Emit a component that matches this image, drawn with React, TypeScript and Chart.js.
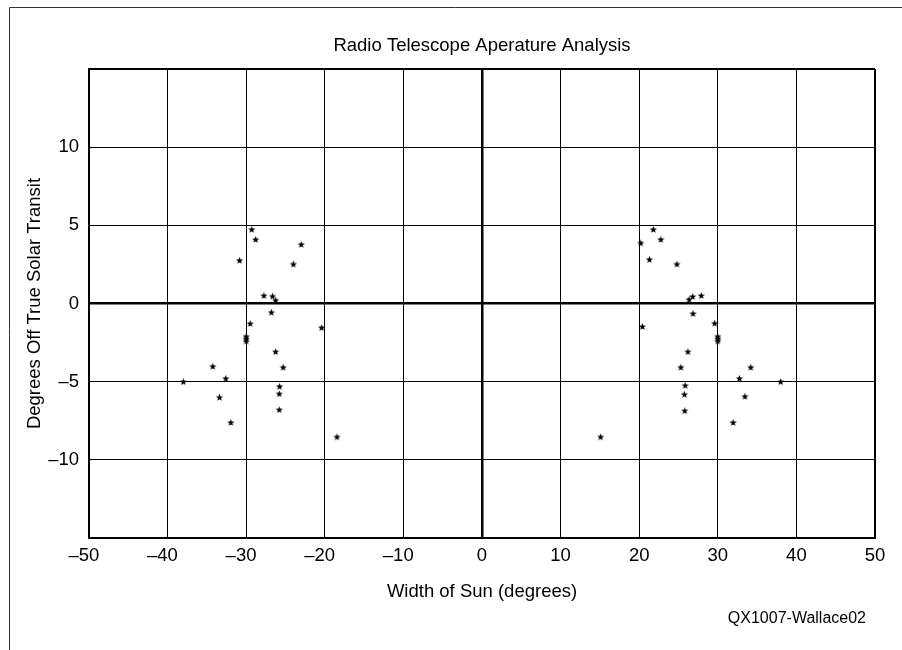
import React, { useEffect, useRef } from "react";
import { Chart, registerables } from "chart.js";

Chart.register(...registerables);

// West lobe (negative widths)
const westX = [-29.3, -28.8, -23.0, -30.85, -24.0, -27.75, -26.65, -26.25, -26.8, -29.5, -20.4, -30.0, -30.0, -30.0, -26.25, -25.3, -34.25, -32.6, -38.0, -25.75, -25.8, -33.4, -25.8, -31.95, -18.45];
const westY = [4.74, 4.1, 3.78, 2.76, 2.52, 0.51, 0.47, 0.21, -0.56, -1.28, -1.54, -2.1, -2.25, -2.4, -3.08, -4.08, -4.02, -4.79, -5.0, -5.3, -5.77, -6.0, -6.79, -7.61, -8.53];
// East lobe (positive widths)
const eastX = [21.8, 22.75, 20.2, 21.3, 24.8, 27.9, 26.8, 26.35, 26.85, 29.6, 20.4, 30.0, 30.0, 30.0, 26.2, 25.3, 34.2, 32.75, 38.0, 25.85, 25.75, 33.45, 25.8, 31.95, 15.1];
const eastY = [4.74, 4.1, 3.87, 2.82, 2.52, 0.51, 0.45, 0.26, -0.64, -1.26, -1.47, -2.1, -2.25, -2.4, -3.08, -4.08, -4.08, -4.79, -5.0, -5.24, -5.81, -5.94, -6.86, -7.61, -8.53];

const chartTitle = "Radio Telescope Aperature Analysis";
const xTitle = "Width of Sun (degrees)";
const yTitle = "Degrees Off True Solar Transit";
const footerText = "QX1007-Wallace02";
const xMin = -50, xMax = 50, xStep = 10;
const yMin = -15, yMax = 15, yStep = 5;

const FONT = "'Liberation Sans', Arial, Helvetica, sans-serif";

function fmtX(v: number): string {
  return v < 0 ? "\u2013" + Math.abs(v) + "\u2007" : String(v);
}
function fmtY(v: number): string {
  if (Math.abs(v) === 15) return "";
  return v < 0 ? "\u2013" + Math.abs(v) : String(v);
}

function makeStar(): HTMLCanvasElement {
  const c = document.createElement("canvas");
  c.width = 9;
  c.height = 9;
  const g = c.getContext("2d")!;
  g.fillStyle = "#000";
  g.beginPath();
  for (let i = 0; i < 10; i++) {
    const r = i % 2 === 0 ? 3.8 : 1.6;
    const a = -Math.PI / 2 + (i * Math.PI) / 5;
    const px = 4.5 + r * Math.cos(a);
    const py = 4.8 + r * Math.sin(a);
    if (i === 0) g.moveTo(px, py);
    else g.lineTo(px, py);
  }
  g.closePath();
  g.fill();
  return c;
}

const framePlugin = {
  id: "frameAndFooter",
  afterDraw(chart: any) {
    const ctx = chart.ctx;
    ctx.save();
    ctx.strokeStyle = "#333";
    ctx.lineWidth = 1;
    ctx.beginPath();
    ctx.moveTo(9.5, 650);
    ctx.lineTo(9.5, 7.5);
    ctx.lineTo(902, 7.5);
    ctx.stroke();
    ctx.fillStyle = "#000";
    ctx.font = "16px " + FONT;
    ctx.textAlign = "right";
    ctx.textBaseline = "middle";
    ctx.fillText(footerText, 866, 619);
    ctx.restore();
  },
};

export default function App() {
  const ref = useRef<HTMLCanvasElement | null>(null);
  useEffect(() => {
    if (!ref.current) return;
    const star = makeStar();
    const pts = [
      ...westX.map((x, i) => ({ x, y: westY[i] })),
      ...eastX.map((x, i) => ({ x, y: eastY[i] })),
    ];
    const edgeWidth = (ctx: any, lim: number) => {
      const v = ctx.tick ? ctx.tick.value : null;
      if (v === 0) return 2.5;
      if (v !== null && Math.abs(v) === lim) return 2;
      return 1;
    };
    const chart = new Chart(ref.current, {
      type: "scatter",
      data: {
        datasets: [
          {
            data: pts,
            pointStyle: star as any,
            pointRadius: 4,
            backgroundColor: "#000",
            borderColor: "#000",
            showLine: false,
          },
        ],
      },
      options: {
        animation: false,
        responsive: false,
        devicePixelRatio: 1,
        layout: { padding: { left: 0, right: 27, top: 0, bottom: 0 } },
        plugins: {
          legend: { display: false },
          tooltip: { enabled: false },
          title: {
            display: true,
            text: chartTitle,
            fullSize: false,
            color: "#000",
            font: { family: FONT, size: 18.5, weight: "normal" },
            padding: { top: 35, bottom: 11.8 },
          },
        },
        scales: {
          x: {
            type: "linear",
            min: xMin,
            max: xMax,
            afterFit: (s: any) => {
              s.height = 112;
            },
            ticks: {
              stepSize: xStep,
              autoSkip: false,
              maxRotation: 0,
              padding: 7,
              color: "#000",
              font: { family: FONT, size: 18.5 },
              callback: (v: any) => fmtX(Number(v)),
            },
            grid: {
              color: "#000",
              drawTicks: false,
              lineWidth: (ctx: any) => edgeWidth(ctx, 50),
            },
            border: { color: "#000", width: 2 },
            title: {
              display: true,
              text: xTitle,
              color: "#000",
              font: { family: FONT, size: 18.5 },
              padding: { top: 0, bottom: 47 },
            },
          },
          y: {
            type: "linear",
            min: yMin,
            max: yMax,
            afterFit: (s: any) => {
              s.width = 89;
            },
            ticks: {
              stepSize: yStep,
              autoSkip: false,
              padding: 10,
              color: "#000",
              font: { family: FONT, size: 18.5 },
              callback: (v: any) => fmtY(Number(v)),
            },
            grid: {
              color: "#000",
              drawTicks: false,
              lineWidth: (ctx: any) => edgeWidth(ctx, 15),
            },
            border: { color: "#000", width: 2 },
            title: {
              display: true,
              text: yTitle,
              color: "#000",
              font: { family: FONT, size: 18.5 },
              padding: { top: 24, bottom: 0 },
            },
          },
        },
      },
      plugins: [framePlugin],
    });
    return () => chart.destroy();
  }, []);
  return (
    <div style={{ position: "absolute", left: 0, top: 0, width: 902, height: 650, background: "#fff" }}>
      <canvas ref={ref} width={902} height={650} style={{ display: "block" }} />
    </div>
  );
}
